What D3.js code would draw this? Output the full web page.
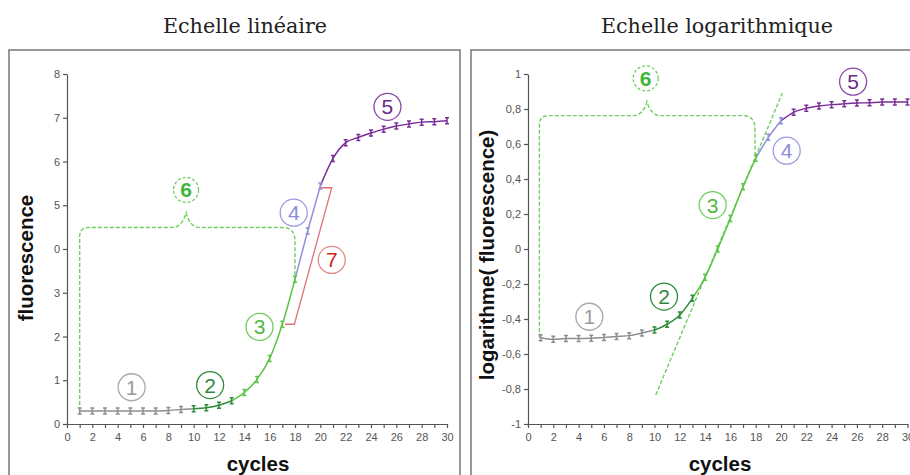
<!DOCTYPE html>
<html>
<head>
<meta charset="utf-8">
<script src="https://cdn.jsdelivr.net/npm/d3@7"></script>
<style>
  body { margin: 0; background: #fff; }
  svg { display: block; }
  .tick text { font-family: Arial, "Liberation Sans", sans-serif; font-size: 11px; fill: #555; }
  .tick line, .domain { stroke: #555; stroke-width: 1.2; }
  .titre { font-family: "DejaVu Serif", "Liberation Serif", serif; font-size: 20.7px; fill: #222; }
  .axe { font-family: Arial, "Liberation Sans", sans-serif; font-size: 20.5px; font-weight: bold; fill: #111; }
  .num { font-family: Arial, "Liberation Sans", sans-serif; font-size: 21px; }
</style>
</head>
<body>
<svg id="graph" width="910" height="475"></svg>
<script>
// cycles 1..30
const cycles = d3.range(1, 31);

const fluoLin = [0.30, 0.30, 0.30, 0.30, 0.30, 0.30, 0.30, 0.31, 0.33, 0.35,
                 0.37, 0.43, 0.53, 0.72, 1.02, 1.50, 2.28, 3.31, 4.41, 5.44,
                 6.07, 6.43, 6.55, 6.65, 6.74, 6.81, 6.86, 6.90, 6.91, 6.93];

const fluoLog = [-0.507, -0.516, -0.512, -0.512, -0.510, -0.505, -0.500, -0.495, -0.480, -0.463,
                 -0.430, -0.377, -0.282, -0.162, 0.000, 0.175, 0.356, 0.518, 0.638, 0.733,
                 0.781, 0.804, 0.817, 0.825, 0.830, 0.834, 0.836, 0.840, 0.840, 0.840];

// phases de la courbe : [premier cycle, dernier cycle, couleur]
const phases = [
  [1, 10, "#8e8e8e"],
  [10, 13, "#2f8a3a"],
  [13, 18, "#5cc447"],
  [18, 20, "#9090dc"],
  [20, 30, "#7a2e98"]
];
// couleur du marqueur de chaque cycle (par phase)
const marqueurPhase = [[1, 9, 0], [10, 13, 1], [14, 18, 2], [19, 20, 3], [21, 30, 4]];

const yLabelsLin = ["0", "1", "2", "3", "0", "5", "6", "7", "8"];
const yValuesLin = [0, 1, 2, 3, 4, 5, 6, 7, 8];
const yLabelsLog = ["-1", "-0,8", "-0,6", "-0,4", "-0,2", "0", "0,2", "0,4", "0,6", "0,8", "1"];
const yValuesLog = [-1, -0.8, -0.6, -0.4, -0.2, 0, 0.2, 0.4, 0.6, 0.8, 1];

// étiquettes numérotées : [texte, cycle, valeur, couleur texte, couleur cercle, pointillé]
const etiquettesLin = [
  ["1", 5.1, 0.84, "#9a9a9a", "#a8a8a8", false],
  ["2", 11.3, 0.89, "#2f8a3a", "#2f8a3a", false],
  ["3", 15.2, 2.22, "#4cbb3c", "#6fcf5f", false],
  ["4", 17.9, 4.83, "#8c8cdc", "#9c9ce0", false],
  ["5", 25.3, 7.25, "#6a2a88", "#8a4aa8", false],
  ["6", 9.4, 5.35, "#3fb53a", "#6fcf5f", true],
  ["7", 20.9, 3.75, "#cc1f1f", "#e08a8a", false]
];
const etiquettesLog = [
  ["1", 4.85, -0.387, "#9a9a9a", "#a8a8a8", false],
  ["2", 10.75, -0.272, "#2f8a3a", "#2f8a3a", false],
  ["3", 14.6, 0.251, "#4cbb3c", "#6fcf5f", false],
  ["4", 20.45, 0.562, "#8c8cdc", "#9c9ce0", false],
  ["5", 25.7, 0.956, "#6a2a88", "#8a4aa8", false],
  ["6", 9.3, 0.975, "#3fb53a", "#6fcf5f", true]
];

// accolades (6) : [cycle gauche, valeur départ, valeur haut, cycle pointe, valeur pointe, cycle droit, valeur fin]
const accoladeLin = [1, 0.30, 4.49, 9.4, 4.83, 18, 3.31];
const accoladeLog = [0.9, -0.507, 0.762, 9.4, 0.842, 17.95, 0.518];

// repère rouge (7) sur le graphe linéaire
const repere7 = [[17.2, 2.28], [17.95, 2.28], [20.9, 5.40], [20.0, 5.40]];

// tangente en pointillé sur le graphe logarithmique
const tangente = [[10.1, -0.834], [20.1, 0.89]];

const svg = d3.select("#graph");

// cadres
svg.append("rect").attr("x", 9).attr("y", 50).attr("width", 451).attr("height", 440)
  .attr("fill", "none").attr("stroke", "#777").attr("stroke-width", 1.5);
svg.append("rect").attr("x", 471).attr("y", 50).attr("width", 460).attr("height", 440)
  .attr("fill", "none").attr("stroke", "#777").attr("stroke-width", 1.5);

svg.append("text").attr("class", "titre").attr("x", 245).attr("y", 33)
  .attr("text-anchor", "middle").text("Echelle linéaire");
svg.append("text").attr("class", "titre").attr("x", 717).attr("y", 33)
  .attr("text-anchor", "middle").text("Echelle logarithmique");

function accolade(x, y, a) {
  const r = 9;
  const xl = x(a[0]), y0 = y(a[1]), yt = y(a[2]), xp = x(a[3]), yp = y(a[4]), xr = x(a[5]), y1 = y(a[6]);
  return `M${xl},${y0} L${xl},${yt + r} Q${xl},${yt} ${xl + r},${yt} L${xp - 14},${yt}`
    + ` Q${xp - 4},${yt} ${xp},${yp}`
    + ` Q${xp + 4},${yt} ${xp + 14},${yt} L${xr - 12},${yt} Q${xr},${yt} ${xr},${yt + 14} L${xr},${y1}`;
}

function dessine(cfg) {
  const x = d3.scaleLinear().domain([0, 30]).range(cfg.xRange);
  const y = d3.scaleLinear().domain(cfg.yDomain).range([424, 74]);
  const g = svg.append("g");

  g.append("g").attr("transform", "translate(0,424)")
    .call(d3.axisBottom(x).tickValues(d3.range(0, 31)).tickSize(4).tickSizeOuter(0)
      .tickFormat(d => d % 2 === 0 ? d : ""))
    .call(a => a.selectAll("text").attr("dy", "0.9em"));
  g.append("g").attr("transform", `translate(${cfg.xRange[0]},0)`)
    .call(d3.axisLeft(y).tickValues(cfg.yValues).tickSize(4).tickSizeOuter(0)
      .tickFormat((d, i) => cfg.yLabels[i]));

  // accolade 6
  g.append("path").attr("d", accolade(x, y, cfg.accolade))
    .attr("fill", "none").attr("stroke", "#6fcf5f").attr("stroke-width", 1.4)
    .attr("stroke-dasharray", "4,2");

  if (cfg.extra) cfg.extra(g, x, y);

  const pts = cycles.map((c, i) => ({ c: c, v: cfg.valeurs[i] }));
  const ligne = d3.line().x(d => x(d.c)).y(d => y(d.v)).curve(d3.curveMonotoneX);
  phases.forEach(p => {
    g.append("path").datum(pts.filter(d => d.c >= p[0] && d.c <= p[1]))
      .attr("d", ligne).attr("fill", "none").attr("stroke", p[2]).attr("stroke-width", 1.5);
  });
  marqueurPhase.forEach(m => {
    const col = phases[m[2]][2];
    g.selectAll(null).data(pts.filter(d => d.c >= m[0] && d.c <= m[1])).enter()
      .append("path")
      .attr("transform", d => `translate(${x(d.c)},${y(d.v)})`)
      .attr("d", "M-2,-3H2M0,-3V3M-2,3H2")
      .attr("fill", "none").attr("stroke", col).attr("stroke-width", 1.5);
  });

  cfg.etiquettes.forEach(e => {
    const cx = x(e[1]), cy = y(e[2]);
    g.append("circle").attr("cx", cx).attr("cy", cy).attr("r", e[5] ? 12.5 : 13.5)
      .attr("fill", "none").attr("stroke", e[4]).attr("stroke-width", 1.3)
      .attr("stroke-dasharray", e[5] ? "3,2" : null);
    g.append("text").attr("class", "num").attr("x", cx).attr("y", cy + 7.5)
      .attr("text-anchor", "middle").attr("fill", e[3])
      .attr("font-weight", e[5] ? "bold" : "normal").text(e[0]);
  });

  g.append("text").attr("class", "axe")
    .attr("transform", `translate(${cfg.yTitreX},${cfg.yTitreY}) rotate(-90)`)
    .attr("text-anchor", "middle").text(cfg.yTitre);
  g.append("text").attr("class", "axe").attr("x", cfg.xTitreX).attr("y", 471)
    .attr("text-anchor", "middle").text("cycles");
}

dessine({
  xRange: [67, 447], yDomain: [0, 8], yValues: yValuesLin, yLabels: yLabelsLin,
  valeurs: fluoLin, etiquettes: etiquettesLin, accolade: accoladeLin,
  yTitre: "fluorescence", yTitreX: 33, yTitreY: 258, xTitreX: 258,
  extra: (g, x, y) => {
    g.append("path").datum(repere7)
      .attr("d", d3.line().x(d => x(d[0])).y(d => y(d[1])))
      .attr("fill", "none").attr("stroke", "#e0707a").attr("stroke-width", 1.3);
  }
});

dessine({
  xRange: [528, 907.5], yDomain: [-1, 1], yValues: yValuesLog, yLabels: yLabelsLog,
  valeurs: fluoLog, etiquettes: etiquettesLog, accolade: accoladeLog,
  yTitre: "logarithme( fluorescence)", yTitreX: 494, yTitreY: 255, xTitreX: 720,
  extra: (g, x, y) => {
    g.append("path").datum(tangente)
      .attr("d", d3.line().x(d => x(d[0])).y(d => y(d[1])))
      .attr("fill", "none").attr("stroke", "#6fcf5f").attr("stroke-width", 1.4)
      .attr("stroke-dasharray", "4,2");
  }
});
</script>
</body>
</html>
